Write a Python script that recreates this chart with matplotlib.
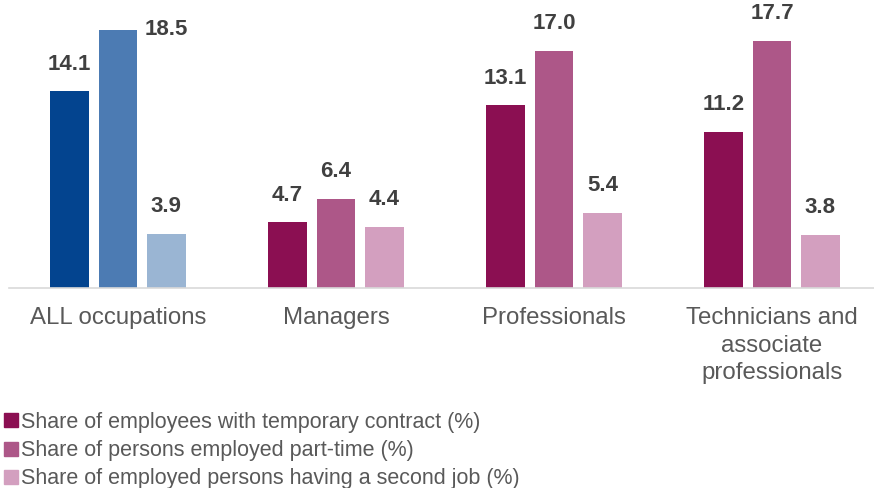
import matplotlib.pyplot as plt
from matplotlib.lines import Line2D

plt.rcParams['font.family'] = ['Liberation Sans', 'DejaVu Sans']

categories = ['ALL occupations', 'Managers', 'Professionals',
              'Technicians and\nassociate\nprofessionals']
temporary = [14.1, 4.7, 13.1, 11.2]
part_time = [18.5, 6.4, 17.0, 17.7]
second_job = [3.9, 4.4, 5.4, 3.8]
series_names = ['Share of employees with temporary contract (%)',
                'Share of persons employed part-time (%)',
                'Share of employed persons having a second job (%)']

# first group in blues, the occupations in purples
blues = ['#03448f', '#4c7bb3', '#9ab5d3']
purples = ['#8b0f52', '#ad5788', '#d39fbf']

fig = plt.figure(figsize=(8.74, 4.88), dpi=100)
ax = fig.add_axes([9 / 874, 200 / 488, 865 / 874, 288 / 488])

width = 0.178
step = 0.222
label_color = '#404040'
for s, vals in enumerate([temporary, part_time, second_job]):
    for i, v in enumerate(vals):
        col = blues[s] if i == 0 else purples[s]
        x = i + (s - 1) * step
        ax.bar(x, v, width=width, color=col)
        if i == 0 and s == 1:
            # tallest bar: label sits beside the top
            ax.text(x + step, v, f'{v:.1f}', ha='center', va='center',
                    fontsize=16, fontweight='bold', color=label_color)
        else:
            ax.annotate(f'{v:.1f}', (x, v), xytext=(0, 12), textcoords='offset points',
                        ha='center', va='bottom', fontsize=16, fontweight='bold',
                        color=label_color)

ax.set_xlim(-0.5, -0.5 + 865 / 218)
ax.set_ylim(0, 288 / 13.95)
ax.set_xticks(range(len(categories)))
ax.set_xticklabels(categories, fontsize=17.3, color='#595959', linespacing=1.3)
ax.tick_params(axis='x', length=0, pad=14)
ax.set_yticks([])
for side in ['top', 'right', 'left']:
    ax.spines[side].set_visible(False)
ax.spines['bottom'].set_color('#d9d9d9')
ax.spines['bottom'].set_linewidth(1.2)

handles = [Line2D([], [], marker='s', linestyle='none', markersize=9.4,
                  markerfacecolor=c, markeredgecolor=c) for c in purples]
leg = fig.legend(handles, series_names, loc='upper left', bbox_to_anchor=(3 / 874, 1 - 412 / 488),
                 frameon=False, fontsize=15.5, handlelength=0.7, handletextpad=0.12,
                 labelspacing=0.33, borderpad=0, borderaxespad=0)
for t in leg.get_texts():
    t.set_color('#595959')

fig.savefig('out.png', dpi=100)
